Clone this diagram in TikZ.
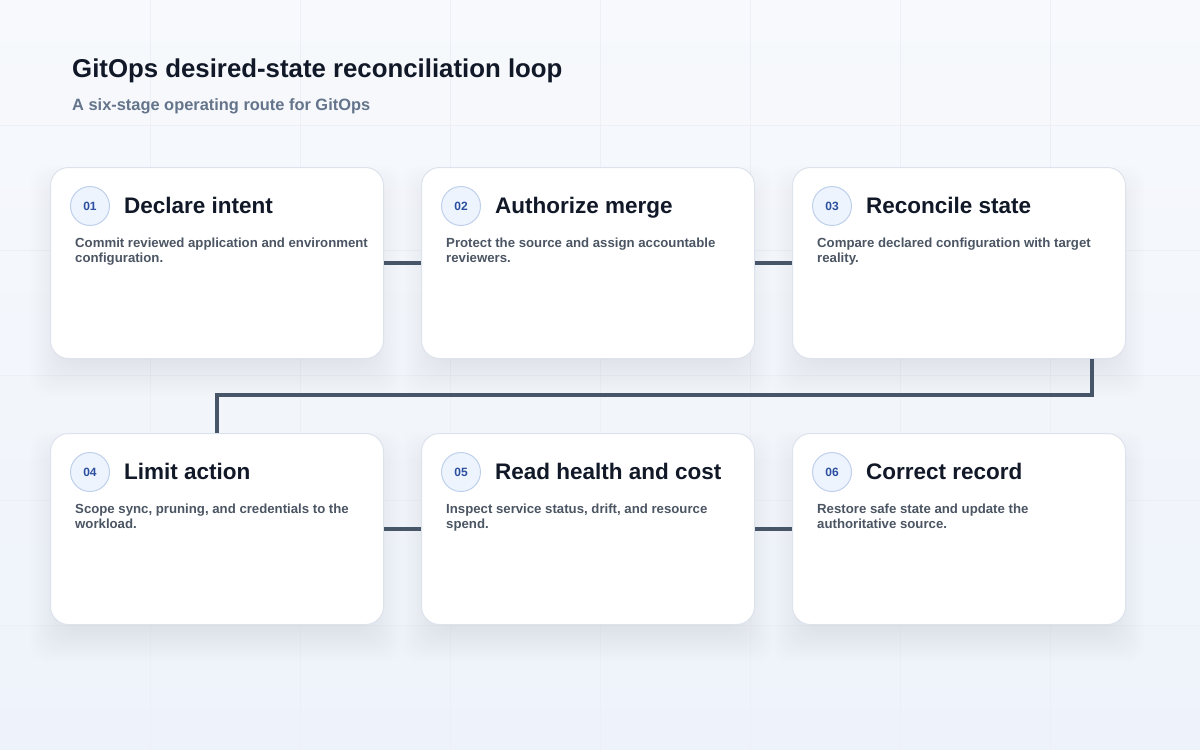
\documentclass[tikz,border=0pt]{standalone}
\usepackage{fontspec}
\setmainfont{Liberation Sans}
\usetikzlibrary{calc}
\definecolor{bgA}{HTML}{F7F9FC}
\definecolor{bgB}{HTML}{EEF3FB}
\definecolor{gridc}{HTML}{ECF0F6}
\definecolor{cardborder}{HTML}{DDE3EC}
\definecolor{ink}{HTML}{111827}
\definecolor{muted}{HTML}{4B5563}
\definecolor{subc}{HTML}{64748B}
\definecolor{badgefill}{HTML}{EEF4FE}
\definecolor{badgeline}{HTML}{BFD0EC}
\definecolor{badgeink}{HTML}{2B4F9E}
\definecolor{connc}{HTML}{475569}
\definecolor{shadowc}{HTML}{1E293B}
\tikzset{
  card/.style={draw=cardborder, line width=1pt, fill=white, rounded corners=18pt, minimum width=333pt, minimum height=191pt, inner sep=0pt, anchor=north west},
  badge/.style={circle, draw=badgeline, line width=1pt, fill=badgefill, minimum size=39pt, inner sep=0pt, text=badgeink, font=\bfseries\fontsize{12}{14}\selectfont},
  cardtitle/.style={anchor=base west, inner sep=0pt, text=ink, font=\bfseries\fontsize{22.5}{26}\selectfont},
  carddesc/.style={anchor=base west, inner sep=0pt, text=muted, font=\bfseries\fontsize{13.2}{15}\selectfont},
  connector/.style={draw=connc, line width=3.5pt},
  gridline/.style={draw=gridc, line width=0.6pt},
}
\newcommand\stagecard[7]{%
  \foreach \e in {-20,-18,...,20}{\fill[shadowc, opacity=0.0045, rounded corners=18pt] (#2-\e, #3+18-\e) rectangle (#2+333+\e, #3+209+\e);}
  \node[card] (#1) at (#2,#3) {};
  \node[badge] (#1b) at (#2+40, #3+39) {#4};
  \node[cardtitle] (#1t) at (#2+74, #3+46) {#5};
  \node[carddesc] (#1d) at (#2+25, #3+80) {#6};
  \node[carddesc] (#1e) at (#2+25, #3+95) {#7};
}
\begin{document}
\begin{tikzpicture}[x=1pt, y=-1pt]
\useasboundingbox (0,0) rectangle (1200,750);
\shade[top color=bgA, bottom color=bgB] (0,0) rectangle (1200,750);
\foreach \gx in {150,300,...,1050} {\draw[gridline] (\gx,0) -- (\gx,750);}
\foreach \gy in {125,250,...,625} {\draw[gridline] (0,\gy) -- (1200,\gy);}

\node[anchor=base west, inner sep=0pt, text=ink, font=\bfseries\fontsize{25.8}{30}\selectfont] (title) at (72,77) {GitOps desired-state reconciliation loop};
\node[anchor=base west, inner sep=0pt, text=subc, font=\bfseries\fontsize{16.4}{19}\selectfont] (subtitle) at (72,110) {A six-stage operating route for GitOps};

\stagecard{c1}{50}{167}{01}{Declare intent}{Commit reviewed application and environment}{configuration.}
\stagecard{c2}{421}{167}{02}{Authorize merge}{Protect the source and assign accountable}{reviewers.}
\stagecard{c3}{792}{167}{03}{Reconcile state}{Compare declared configuration with target}{reality.}
\stagecard{c4}{50}{433}{04}{Limit action}{Scope sync, pruning, and credentials to the}{workload.}
\stagecard{c5}{421}{433}{05}{Read health and cost}{Inspect service status, drift, and resource}{spend.}
\stagecard{c6}{792}{433}{06}{Correct record}{Restore safe state and update the}{authoritative source.}

\draw[connector] (c1.east) -- (c2.west);
\draw[connector] (c2.east) -- (c3.west);
\draw[connector] (c4.east) -- (c5.west);
\draw[connector] (c5.east) -- (c6.west);
\draw[connector] ([xshift=-34pt]c3.south east) |- ([yshift=38pt]c4.north) -- (c4.north);
\end{tikzpicture}
\end{document}
